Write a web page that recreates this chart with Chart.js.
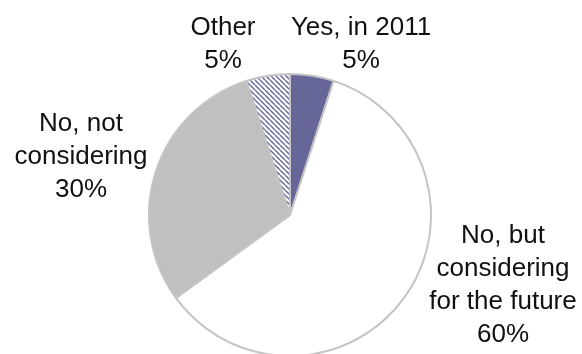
<!DOCTYPE html>
<html>
<head>
<meta charset="utf-8">
<script src="https://cdn.jsdelivr.net/npm/chart.js@4"></script>
<style>
  html, body { margin: 0; padding: 0; background: #fff; overflow: hidden; }
  #wrap { position: relative; width: 582px; height: 354px; }
</style>
</head>
<body>
<div id="wrap"><canvas id="graf"></canvas></div>
<script>
// data
var answers = [["Yes, in 2011"], ["No, but", "considering", "for the future"], ["No, not", "considering"], ["Other"]];
var shares = [5, 60, 30, 5];

// where each label block sits (center x, first baseline y)
var labelPos = [[361, 35], [503, 243], [81, 131], [223, 35]];

// hatch for the "Other" slice
function hatch() {
  var c = document.createElement("canvas");
  c.width = 5; c.height = 5;
  var g = c.getContext("2d");
  g.fillStyle = "#ffffff";
  g.fillRect(0, 0, 5, 5);
  g.strokeStyle = "#666699";
  g.lineWidth = 1.4;
  for (var o = -5; o <= 5; o += 5) {
    g.beginPath();
    g.moveTo(o, 0);
    g.lineTo(o + 5, 5);
    g.stroke();
  }
  return g.createPattern(c, "repeat");
}

var graf = document.getElementById("graf");

var pieLabels = {
  id: "pieLabels",
  afterDraw: function (chart) {
    var ctx = chart.ctx;
    var vals = chart.data.datasets[0].data;
    var total = vals.reduce(function (a, b) { return a + b; }, 0);
    ctx.save();
    ctx.fillStyle = "#111";
    ctx.font = "26px 'Liberation Sans', Arial, sans-serif";
    ctx.textAlign = "center";
    ctx.textBaseline = "alphabetic";
    chart.data.labels.forEach(function (lines, i) {
      var all = lines.concat([Math.round(vals[i] / total * 100) + "%"]);
      all.forEach(function (t, k) {
        ctx.fillText(t, labelPos[i][0], labelPos[i][1] + k * 33);
      });
    });
    ctx.restore();
  }
};

new Chart(graf, {
  type: "pie",
  data: {
    labels: answers,
    datasets: [{
      data: shares,
      backgroundColor: ["#666699", "#ffffff", "#c0c0c0", hatch()],
      borderColor: "#c4c4c4",
      borderWidth: 2,
      hoverOffset: 0,
      clip: false
    }]
  },
  options: {
    responsive: true,
    maintainAspectRatio: false,
    animation: false,
    radius: 141,
    layout: { padding: { top: 76, bottom: 0, left: 0, right: 2 } },
    plugins: {
      legend: { display: false },
      tooltip: { enabled: false }
    }
  },
  plugins: [pieLabels]
});
</script>
</body>
</html>
